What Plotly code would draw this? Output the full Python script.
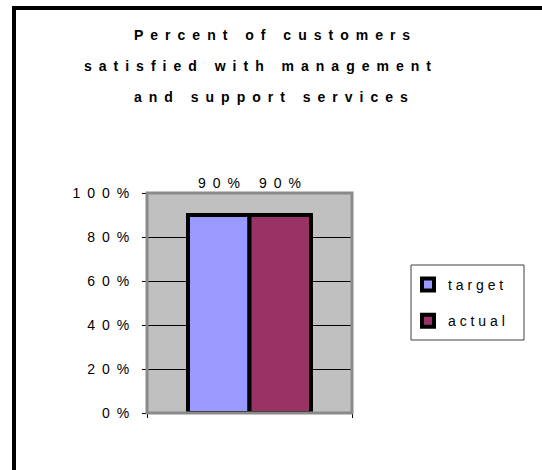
import plotly.graph_objects as go

# ---- data -------------------------------------------------------------
categories = [""]
series_names = ["target", "actual"]
series_values = [[0.90], [0.90]]
series_colors = ["#9999FF", "#993366"]
y_tick_values = [0, 0.2, 0.4, 0.6, 0.8, 1.0]
y_tick_labels = ["0%", "20%", "40%", "60%", "80%", "100%"]
title_lines = [
    "Percent of customers",
    "satisfied with management",
    "and support services",
]

# ---- geometry ----------------------------------------------------------
W, H = 542, 470
M_L, M_R, M_T, M_B = 147, 190, 193, 57
PLOT_W = W - M_L - M_R
PLOT_H = H - M_T - M_B
BARGAP = 0.4
FONT = "Arial, Liberation Sans, sans-serif"

EN = "\u2002"


def spaced(text, gap=EN):
    """Widely tracked text: a gap between letters, wider between words."""
    words = text.split(" ")
    return (gap + " " + gap).join(gap.join(w) for w in words)


def px_x(p):
    return (p - M_L) / PLOT_W


def px_y(p):
    return 1 - (p - M_T) / PLOT_H


fig = go.Figure()
for i, (name, vals, color) in enumerate(zip(series_names, series_values, series_colors)):
    fig.add_trace(go.Bar(
        x=categories, y=vals, name=spaced(name, " "),
        marker=dict(color=color, line=dict(color="black", width=4)),
        legendgroup=name,
    ))

# value labels above each bar
n = len(series_names)
bar_w = (1 - BARGAP) / n
annotations = []
for i, vals in enumerate(series_values):
    for j, v in enumerate(vals):
        xc = j - (1 - BARGAP) / 2 + bar_w * (i + 0.5)
        annotations.append(dict(
            x=xc, y=v, xref="x", yref="y", text=spaced(f"{v:.0%}"),
            showarrow=False, yshift=32, yanchor="middle",
            font=dict(family=FONT, size=14, color="black"),
        ))

# title, one annotation per line
title_y = [35, 66, 97]
title_x = [272, 257, 271]
for line, ty, tx in zip(title_lines, title_y, title_x):
    annotations.append(dict(
        x=px_x(tx), y=px_y(ty), xref="paper", yref="paper",
        text="<b>" + spaced(line) + "</b>", showarrow=False,
        xanchor="center", yanchor="middle",
        font=dict(family=FONT, size=14, color="black"),
    ))

shapes = [
    # plot-area border
    dict(type="rect", xref="paper", yref="paper", x0=0, x1=1, y0=0, y1=1,
         line=dict(color="#8A8A8A", width=3), layer="above"),
    # legend frame
    dict(type="rect", xref="paper", yref="paper",
         x0=px_x(411), x1=px_x(524), y0=px_y(340), y1=px_y(265),
         line=dict(color="#404040", width=1), fillcolor="white", layer="below"),
    # outer frame: top and left edges
    dict(type="line", xref="paper", yref="paper",
         x0=px_x(12), x1=px_x(W + 5), y0=px_y(8), y1=px_y(8),
         line=dict(color="black", width=4)),
    dict(type="line", xref="paper", yref="paper",
         x0=px_x(14), x1=px_x(14), y0=px_y(6), y1=px_y(H + 5),
         line=dict(color="black", width=4)),
]

fig.update_layout(
    width=W, height=H,
    margin=dict(l=M_L, r=M_R, t=M_T, b=M_B, autoexpand=False),
    paper_bgcolor="white", plot_bgcolor="#C0C0C0",
    barmode="group", bargap=BARGAP, bargroupgap=0,
    showlegend=True,
    legend=dict(
        x=px_x(408), y=px_y(269), xanchor="left", yanchor="top",
        bgcolor="rgba(0,0,0,0)", borderwidth=0,
        traceorder="grouped", tracegroupgap=15,
        font=dict(family=FONT, size=14, color="black"),
    ),
    annotations=annotations,
    shapes=shapes,
    font=dict(family=FONT, color="black"),
)
fig.update_xaxes(
    showticklabels=False, showgrid=False, zeroline=False,
    showline=True, linecolor="black", linewidth=1,
    ticks="outside", ticklen=4, tickcolor="black", tickson="boundaries",
    range=[-0.5, 0.5],
)
fig.update_yaxes(
    range=[0, 1], tickvals=y_tick_values,
    ticktext=[spaced(t) for t in y_tick_labels],
    showgrid=True, gridcolor="black", gridwidth=1, zeroline=False,
    showline=True, linecolor="black", linewidth=1,
    ticks="outside", ticklen=4, tickcolor="black", ticklabelstandoff=10,
    tickfont=dict(family=FONT, size=14, color="black"),
)

fig.write_html("out.html")
